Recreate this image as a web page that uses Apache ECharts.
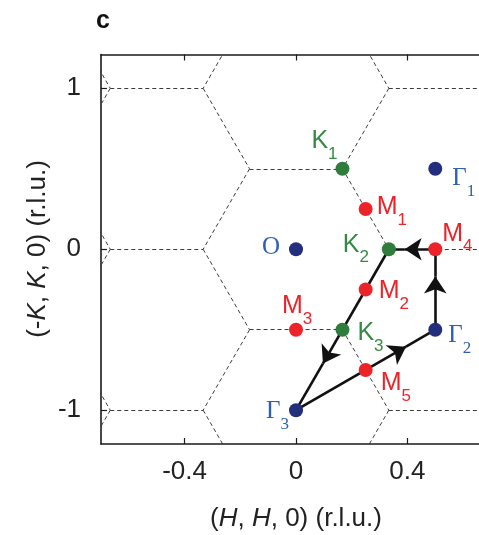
<!DOCTYPE html>
<html>
<head>
<meta charset="utf-8">
<script src="https://cdn.jsdelivr.net/npm/echarts@6/dist/echarts.min.js"></script>
<style>
  html, body { margin: 0; padding: 0; background: #fff; }
  #chart { width: 479px; height: 535px; }
</style>
</head>
<body>
<div id="chart"></div>
<script>
// high-symmetry points, (H,H,0) and (-K,K,0) in r.l.u.
const pointNames = ['O', 'Γ1', 'Γ2', 'Γ3', 'M1', 'M2', 'M3', 'M4', 'M5', 'K1', 'K2', 'K3'];
const pointH = [0, 0.5, 0.5, 0, 0.25, 0.25, 0, 0.5, 0.25, 0.1667, 0.3333, 0.1667];
const pointK = [0, 0.5, -0.5, -1, 0.25, -0.25, -0.5, 0, -0.75, 0.5, 0, -0.5];

// measurement path and where the arrow heads sit along each leg
const pathOrder = ['Γ2', 'M4', 'K2', 'Γ3', 'Γ2'];
const arrowAt = [0.66, 0.66, 0.71, 0.79];

const xTicks = [-0.4, 0, 0.4];
const yTicks = [-1, 0, 1];

// zone boundary: hexagon corners around a zone centre, lattice vectors
const hexCorner = [[0.3333, 0], [0.1667, 0.5], [-0.1667, 0.5], [-0.3333, 0], [-0.1667, -0.5], [0.1667, -0.5]];
const latticeA = [0.5, 0.5];
const latticeB = [0.5, -0.5];

const colors = {
  G: { dot: '#232f7c', text: '#2d5fb4' },
  M: { dot: '#ec2329', text: '#ec2329' },
  K: { dot: '#2f7d3c', text: '#358a43' }
};
// label placement: [left of main letter - point x, letter centre - point y] in px
const labelPlace = {
  'O': [-34, -3], 'Γ1': [17, 8], 'Γ2': [13, 4], 'Γ3': [-30, 0],
  'M1': [11, -3], 'M2': [13, 0], 'M3': [-14, -25], 'M4': [7, -17], 'M5': [15, 12],
  'K1': [-31, -29], 'K2': [-46, -6], 'K3': [15, 2]
};

const sans = '"Liberation Sans", Arial, sans-serif';
const serif = '"Liberation Serif", "Times New Roman", serif';

const kind = name => (name[0] === 'M' ? 'M' : name[0] === 'K' ? 'K' : 'G');

// build zone edges
let edgeMap = {};
for (let i = -4; i <= 4; i++) {
  for (let j = -4; j <= 4; j++) {
    const cx = i * latticeA[0] + j * latticeB[0];
    const cy = i * latticeA[1] + j * latticeB[1];
    if (Math.abs(cx) > 1.3 || Math.abs(cy) > 1.8) continue;
    for (let c = 0; c < 6; c++) {
      const p = hexCorner[c], q = hexCorner[(c + 1) % 6];
      const a = [cx + p[0], cy + p[1]], b = [cx + q[0], cy + q[1]];
      const ka = a.map(v => v.toFixed(3)).join(','), kb = b.map(v => v.toFixed(3)).join(',');
      const key = ka < kb ? ka + '|' + kb : kb + '|' + ka;
      edgeMap[key] = [a, b];
    }
  }
}
const zoneEdges = Object.values(edgeMap).map(e => ({ coords: e }));

const idx = name => pointNames.indexOf(name);
const headLegs = [], tailLegs = [];
for (let s = 0; s < pathOrder.length - 1; s++) {
  const a = idx(pathOrder[s]), b = idx(pathOrder[s + 1]);
  const p0 = [pointH[a], pointK[a]], p1 = [pointH[b], pointK[b]];
  const f = arrowAt[s];
  const tip = [p0[0] + (p1[0] - p0[0]) * f, p0[1] + (p1[1] - p0[1]) * f];
  headLegs.push({ coords: [p0, tip] });
  tailLegs.push({ coords: [tip, p1] });
}

const pointData = pointNames.map((n, i) => {
  const k = kind(n);
  const main = n.slice(0, 1), sub = n.slice(1);
  const pl = labelPlace[n];
  return {
    name: n,
    value: [pointH[i], pointK[i]],
    itemStyle: { color: colors[k].dot, opacity: 1 },
    label: {
      offset: [pl[0], pl[1] - 11],
      formatter: sub ? '{' + k + 'm|' + main + '}{' + k + 's|' + sub + '}' : '{' + k + 'm|' + main + '}'
    }
  };
});

// main letter sits at the top of the line box, subscript at the bottom of a taller one
const richLabels = {};
['G', 'M', 'K'].forEach(k => {
  const fam = k === 'G' ? serif : sans;
  richLabels[k + 'm'] = { fontFamily: fam, fontSize: 25, lineHeight: 26, color: colors[k].text, verticalAlign: 'top' };
  richLabels[k + 's'] = { fontFamily: fam, fontSize: 17, lineHeight: 34, color: colors[k].text, verticalAlign: 'bottom' };
});

const chart = echarts.init(document.getElementById('chart'));
const axisLine = { show: true, onZero: false, lineStyle: { color: '#1a1a1a', width: 1.6 } };

chart.setOption({
  animation: false,
  grid: { left: 101, top: 54.5, right: -12, bottom: 91, containLabel: false, outerBoundsMode: 'none' },
  xAxis: [
    {
      type: 'value', min: -0.7, max: 0.7, position: 'bottom',
      axisLine: axisLine,
      axisTick: { inside: true, length: 6, customValues: xTicks, lineStyle: { color: '#1a1a1a', width: 1.2 } },
      axisLabel: { customValues: xTicks, margin: 15, fontFamily: sans, fontSize: 26, color: '#222' },
      splitLine: { show: false }
    },
    {
      type: 'value', min: -0.7, max: 0.7, position: 'top',
      axisLine: axisLine,
      axisTick: { inside: true, length: 6, customValues: xTicks, lineStyle: { color: '#1a1a1a', width: 1.2 } },
      axisLabel: { show: false },
      splitLine: { show: false }
    }
  ],
  yAxis: [
    {
      type: 'value', min: -1.21, max: 1.21, position: 'left',
      axisLine: axisLine,
      axisTick: { inside: true, length: 6, customValues: yTicks, lineStyle: { color: '#1a1a1a', width: 1.2 } },
      axisLabel: { customValues: yTicks, margin: 20, fontFamily: sans, fontSize: 26, color: '#222' },
      splitLine: { show: false }
    }
  ],
  graphic: [
    {
      type: 'text', x: 96, y: 21,
      style: { text: 'c', font: 'bold 25px ' + sans, fill: '#111', align: 'left', verticalAlign: 'middle' }
    },
    {
      type: 'text', x: 296, y: 519,
      style: {
        text: '{n|(}{i|H}{n|, }{i|H}{n|, 0) (r.l.u.)}',
        fontFamily: sans, fontSize: 26, fill: '#222', align: 'center', verticalAlign: 'middle',
        rich: {
          n: { fontFamily: sans, fontSize: 26, color: '#222' },
          i: { fontFamily: sans, fontSize: 26, fontStyle: 'italic', color: '#222' }
        }
      }
    },
    {
      type: 'text', x: 38, y: 249, rotation: Math.PI / 2,
      style: {
        text: '{n|(-}{i|K}{n|, }{i|K}{n|, 0) (r.l.u.)}',
        fontFamily: sans, fontSize: 26, fill: '#222', align: 'center', verticalAlign: 'middle',
        rich: {
          n: { fontFamily: sans, fontSize: 26, color: '#222' },
          i: { fontFamily: sans, fontSize: 26, fontStyle: 'italic', color: '#222' }
        }
      }
    }
  ],
  series: [
    {
      type: 'lines', coordinateSystem: 'cartesian2d', clip: true, silent: true, z: 1,
      lineStyle: { color: '#3a3a3a', width: 1, type: [4, 3], opacity: 1 },
      data: zoneEdges
    },
    {
      type: 'lines', coordinateSystem: 'cartesian2d', silent: true, z: 2,
      symbol: ['none', 'arrow'], symbolSize: [13, 17],
      lineStyle: { color: '#111', width: 2.6, opacity: 1 },
      data: headLegs
    },
    {
      type: 'lines', coordinateSystem: 'cartesian2d', silent: true, z: 2,
      symbol: ['none', 'none'],
      lineStyle: { color: '#111', width: 2.6, opacity: 1 },
      data: tailLegs
    },
    {
      type: 'scatter', z: 3, symbol: 'circle', symbolSize: 14,
      label: {
        show: true, position: 'inside', align: 'left', verticalAlign: 'top',
        rich: richLabels
      },
      data: pointData
    }
  ]
});
</script>
</body>
</html>
